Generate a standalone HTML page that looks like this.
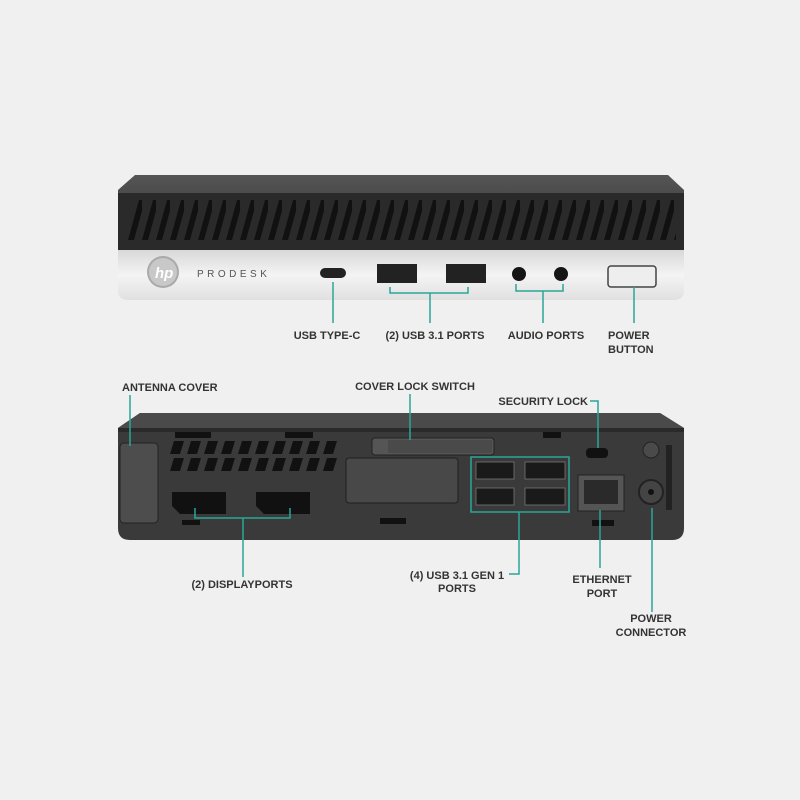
<!DOCTYPE html>
<html><head><meta charset="utf-8"><style>
html,body{margin:0;padding:0;background:#f0f0f0}
svg{display:block}
text{font-family:"Liberation Sans",Arial,sans-serif;font-weight:bold;font-size:11px;fill:#333}
</style></head><body>
<svg width="800" height="800" viewBox="0 0 800 800" xmlns="http://www.w3.org/2000/svg">
<defs>
<linearGradient id="silver" x1="0" y1="0" x2="0" y2="1">
<stop offset="0" stop-color="#d8d8d8"/><stop offset="0.5" stop-color="#f4f4f4"/><stop offset="1" stop-color="#e0e0e0"/></linearGradient>
<linearGradient id="topf" x1="0" y1="0" x2="0" y2="1">
<stop offset="0" stop-color="#555"/><stop offset="1" stop-color="#2f2f2f"/></linearGradient>
<pattern id="slash" x="128" y="200" width="14" height="40" patternUnits="userSpaceOnUse">
<path d="M0 40 L11 0 L17 0 L6 40 Z" fill="#111"/></pattern>
<pattern id="vent" x="168" y="440" width="17" height="17" patternUnits="userSpaceOnUse">
<path d="M2 14 L6 1 L16 1 L12 14 Z" fill="#111"/></pattern>
</defs>
<rect width="800" height="800" fill="#f0f0f0"/>
<!-- FRONT -->
<path d="M135 175 H668 L684 190 V250 H118 V190 Z" fill="url(#topf)"/>
<rect x="118" y="193" width="566" height="57" fill="#2a2a2a"/>
<rect x="128" y="200" width="548" height="40" fill="url(#slash)"/>
<path d="M118 250 H684 V290 Q684 300 674 300 H128 Q118 300 118 290 Z" fill="url(#silver)"/>
<circle cx="163" cy="272" r="16" fill="#aaa"/><circle cx="163" cy="272" r="14" fill="#c8c8c8"/>
<text x="155" y="278" style="font-style:italic;font-size:15px;fill:#fff">hp</text>
<text x="197" y="277" style="font-size:10px;letter-spacing:3.5px;fill:#555;font-weight:normal">PRODESK</text>
<rect x="320" y="268" width="26" height="10" rx="5" fill="#222"/>
<rect x="377" y="264" width="40" height="19" fill="#222"/>
<rect x="446" y="264" width="40" height="19" fill="#222"/>
<circle cx="519" cy="274" r="7" fill="#151515"/><circle cx="561" cy="274" r="7" fill="#151515"/>
<rect x="608" y="266" width="48" height="21" rx="3" fill="#eee" stroke="#444" stroke-width="1.5"/>
<g stroke="#2aa697" stroke-width="1.5" fill="none">
<path d="M333 282 V323"/>
<path d="M390 287 V293 H468 V287 M430 293 V323"/>
<path d="M516 284 V291 H563 V284 M543 291 V323"/>
<path d="M634 287 V323"/>
</g>
<text x="327" y="339" text-anchor="middle">USB TYPE-C</text>
<text x="435" y="339" text-anchor="middle">(2) USB 3.1 PORTS</text>
<text x="546" y="339" text-anchor="middle">AUDIO PORTS</text>
<text x="608" y="339">POWER</text>
<text x="608" y="353">BUTTON</text>
<!-- BACK -->
<path d="M140 413 H660 L684 428 V528 Q684 540 672 540 H130 Q118 540 118 528 V428 Z" fill="#3a3a3a"/>
<path d="M140 413 H660 L684 428 H118 Z" fill="#4a4a4a"/>
<rect x="118" y="428" width="566" height="4" fill="#2a2a2a"/>
<rect x="120" y="443" width="38" height="80" rx="4" fill="#4d4d4d" stroke="#222"/>
<rect x="168" y="440" width="170" height="34" fill="url(#vent)"/>
<g fill="#111">
<rect x="175" y="432" width="36" height="6"/><rect x="285" y="432" width="28" height="6"/><rect x="543" y="432" width="18" height="6"/>
<path d="M172 492 H226 V514 H180 L172 506 Z"/><path d="M256 492 H310 V514 H264 L256 506 Z"/>
<rect x="380" y="518" width="26" height="6"/><rect x="182" y="520" width="18" height="5"/><rect x="592" y="520" width="22" height="6"/>
<rect x="586" y="448" width="22" height="10" rx="4"/>
</g>
<rect x="346" y="458" width="112" height="45" rx="3" fill="#484848" stroke="#1e1e1e"/>
<rect x="372" y="438" width="122" height="17" rx="3" fill="#555" stroke="#222"/>
<rect x="388" y="440" width="104" height="13" rx="2" fill="#4a4a4a"/>
<g fill="#1a1a1a" stroke="#777" stroke-width="0.8">
<rect x="476" y="462" width="38" height="17"/><rect x="525" y="462" width="40" height="17"/>
<rect x="476" y="488" width="38" height="17"/><rect x="525" y="488" width="40" height="17"/>
</g>
<rect x="578" y="475" width="46" height="36" fill="#555" stroke="#222"/>
<rect x="584" y="480" width="34" height="24" fill="#2a2a2a"/>
<circle cx="651" cy="492" r="12" fill="#444" stroke="#222" stroke-width="2"/><circle cx="651" cy="492" r="3" fill="#111"/>
<circle cx="651" cy="450" r="8" fill="#4a4a4a" stroke="#222"/>
<rect x="666" y="445" width="6" height="65" fill="#222"/>
<g stroke="#2aa697" stroke-width="1.5" fill="none">
<path d="M130 395 V446"/>
<path d="M195 508 V518 H290 V508 M243 518 V577"/>
<path d="M410 394 V440"/>
<rect x="471" y="457" width="98" height="55"/>
<path d="M519 512 V574 H509"/>
<path d="M590 401 H598 V448"/>
<path d="M600 510 V568"/>
<path d="M652 508 V612"/>
</g>
<text x="122" y="391">ANTENNA COVER</text>
<text x="415" y="390" text-anchor="middle">COVER LOCK SWITCH</text>
<text x="588" y="405" text-anchor="end">SECURITY LOCK</text>
<text x="242" y="588" text-anchor="middle">(2) DISPLAYPORTS</text>
<text x="457" y="579" text-anchor="middle">(4) USB 3.1 GEN 1</text>
<text x="457" y="592" text-anchor="middle">PORTS</text>
<text x="602" y="583" text-anchor="middle">ETHERNET</text>
<text x="602" y="597" text-anchor="middle">PORT</text>
<text x="651" y="622" text-anchor="middle">POWER</text>
<text x="651" y="636" text-anchor="middle">CONNECTOR</text>
</svg>
</body></html>
